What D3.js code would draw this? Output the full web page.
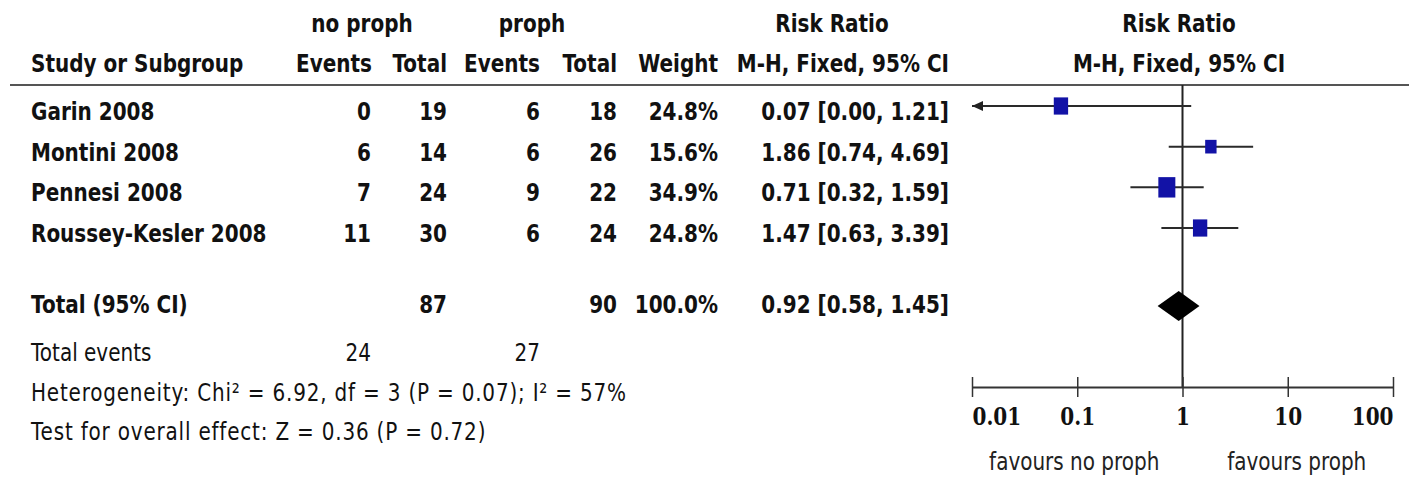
<!DOCTYPE html>
<html><head><meta charset="utf-8">
<script src="https://cdn.jsdelivr.net/npm/d3@7"></script>
<style>
html,body{margin:0;padding:0;background:#fff;}
svg{display:block;}
</style></head>
<body>
<svg id="chart" width="1409" height="479"></svg>
<script>
// ---------- data ----------
const studies = ["Garin 2008", "Montini 2008", "Pennesi 2008", "Roussey-Kesler 2008"];
const eventsNoProph = [0, 6, 7, 11];
const totalNoProph = [19, 14, 24, 30];
const eventsProph = [6, 6, 9, 6];
const totalProph = [18, 26, 22, 24];
const weights = [24.8, 15.6, 34.9, 24.8];
const riskRatio = [0.07, 1.86, 0.71, 1.47];
const ciLow = [0.00, 0.74, 0.32, 0.63];
const ciHigh = [1.21, 4.69, 1.59, 3.39];
const pooled = {label: "Total (95% CI)", totalNo: 87, totalProph: 90, weight: 100.0, rr: 0.92, lo: 0.58, hi: 1.45};
const totalEvents = [24, 27];
const heterogeneityText = "Heterogeneity: Chi² = 6.92, df = 3 (P = 0.07); I² = 57%";
const overallText = "Test for overall effect: Z = 0.36 (P = 0.72)";
const axisTicks = [0.01, 0.1, 1, 10, 100];
const axisTickLabels = ["0.01", "0.1", "1", "10", "100"];
const favoursLabels = ["favours no proph", "favours proph"];

// ---------- layout ----------
const SY = 1.25;
const svg = d3.select("#chart");
const sans = "'DejaVu Sans', Verdana, sans-serif";
const serif = "'DejaVu Serif', serif";
const ink = "#111";

function txt(x, y, s, anchor, weight, family) {
  return svg.append("text")
    .attr("transform", `translate(${x},${y}) scale(1,${SY})`)
    .attr("text-anchor", anchor || "start")
    .style("font-family", family || sans)
    .style("font-size", "20px")
    .style("font-weight", weight || "bold")
    .style("fill", ink)
    .text(s);
}

const x = d3.scaleLog().domain([0.01, 100]).range([972, 1393]);
const rowY = d3.scaleLinear().domain([0, studies.length - 1]).range([106, 228]);
const totalY = 306;
const axisY = 387;
const ruleY = 85;
const sizeW = d3.scaleSqrt().domain([0, 34.9]).range([0, 17]);

const col = {name: 31, evNo: 371, totNo: 447, evPr: 540, totPr: 617, wt: 718, rr: 949, plotC: 1179};

const f2 = d3.format(".2f"), f1 = d3.format(".1f");
const rrText = (r, l, h) => `${f2(r)} [${f2(l)}, ${f2(h)}]`;

// headers
txt(362, 32, "no proph", "middle");
txt(532, 32, "proph", "middle");
txt(832, 32, "Risk Ratio", "middle");
txt(col.plotC, 32, "Risk Ratio", "middle");
txt(col.name, 72, "Study or Subgroup", "start");
txt(col.evNo + 1, 72, "Events", "end");
txt(col.totNo, 72, "Total", "end");
txt(col.evPr, 72, "Events", "end");
txt(col.totPr, 72, "Total", "end");
txt(col.wt, 72, "Weight", "end");
txt(col.rr, 72, "M-H, Fixed, 95% CI", "end");
txt(col.plotC, 72, "M-H, Fixed, 95% CI", "middle");

svg.append("line").attr("x1", 10).attr("x2", 1409).attr("y1", ruleY).attr("y2", ruleY)
  .attr("stroke", "#555").attr("stroke-width", 2);

// study rows
studies.forEach((s, i) => {
  const yb = rowY(i) + 14;
  txt(col.name, yb, s, "start");
  txt(col.evNo, yb, eventsNoProph[i], "end");
  txt(col.totNo, yb, totalNoProph[i], "end");
  txt(col.evPr, yb, eventsProph[i], "end");
  txt(col.totPr, yb, totalProph[i], "end");
  txt(col.wt, yb, f1(weights[i]) + "%", "end");
  txt(col.rr, yb, rrText(riskRatio[i], ciLow[i], ciHigh[i]), "end");
});

// total row
txt(col.name, totalY + 7, pooled.label, "start");
txt(col.totNo, totalY + 7, pooled.totalNo, "end");
txt(col.totPr, totalY + 7, pooled.totalProph, "end");
txt(col.wt, totalY + 7, f1(pooled.weight) + "%", "end");
txt(col.rr, totalY + 7, rrText(pooled.rr, pooled.lo, pooled.hi), "end");

txt(col.name, 361, "Total events", "start", "normal");
txt(col.evNo, 361, totalEvents[0], "end", "normal");
txt(col.evPr, 361, totalEvents[1], "end", "normal");
txt(col.name, 401, heterogeneityText, "start", "normal").style("letter-spacing", "0.8px");
txt(col.name, 440, overallText, "start", "normal").style("letter-spacing", "0.8px");

// vertical line of no effect
svg.append("line").attr("x1", x(1)).attr("x2", x(1)).attr("y1", ruleY).attr("y2", axisY)
  .attr("stroke", "#222").attr("stroke-width", 2);

// CI lines
const dom = x.domain();
studies.forEach((s, i) => {
  const y = rowY(i);
  const lo = Math.max(ciLow[i], dom[0]);
  const hi = Math.min(ciHigh[i], dom[1]);
  svg.append("line").attr("x1", x(lo)).attr("x2", x(hi)).attr("y1", y).attr("y2", y)
    .attr("stroke", "#2a2a2a").attr("stroke-width", 2);
  if (ciLow[i] < dom[0]) {
    const ax = x(dom[0]);
    svg.append("path").attr("d", `M${ax},${y} L${ax + 11},${y - 5} L${ax + 11},${y + 5} Z`).attr("fill", "#222");
  }
  const w = sizeW(weights[i]);
  const h = w * 1.2;
  svg.append("rect").attr("x", x(riskRatio[i]) - w / 2).attr("y", y - h / 2)
    .attr("width", w).attr("height", h).attr("fill", "#1212a6");
});

// pooled diamond
const dh = 15;
svg.append("path")
  .attr("d", `M${x(pooled.lo)},${totalY} L${x(pooled.rr)},${totalY - dh} L${x(pooled.hi)},${totalY} L${x(pooled.rr)},${totalY + dh} Z`)
  .attr("fill", "#000");

// axis
const axis = d3.axisBottom(x).tickValues(axisTicks).tickFormat((d, i) => axisTickLabels[i])
  .tickSize(10).tickSizeOuter(0);
const ag = svg.append("g").attr("transform", `translate(0,${axisY})`).call(axis);
ag.select(".domain").attr("stroke", "#333").attr("stroke-width", 2);
ag.selectAll(".tick line").attr("y1", -10).attr("y2", 10).attr("stroke", "#333").attr("stroke-width", 1.5);
ag.selectAll(".tick text")
  .attr("y", null).attr("dy", null)
  .attr("transform", `translate(0,38) scale(1,${SY})`)
  .attr("text-anchor", (d, i) => i === 0 ? "start" : (i === axisTicks.length - 1 ? "end" : "middle"))
  .style("font-family", serif).style("font-size", "20px").style("font-weight", "bold").style("fill", ink);

const mid = Math.sqrt(dom[0] * dom[1]);
txt((x(dom[0]) + x(mid)) / 2 - 3, 470, favoursLabels[0], "middle", "normal").style("fill", "#222");
txt((x(mid) + x(dom[1])) / 2 + 9, 470, favoursLabels[1], "middle", "normal").style("fill", "#222");
</script>
</body></html>
